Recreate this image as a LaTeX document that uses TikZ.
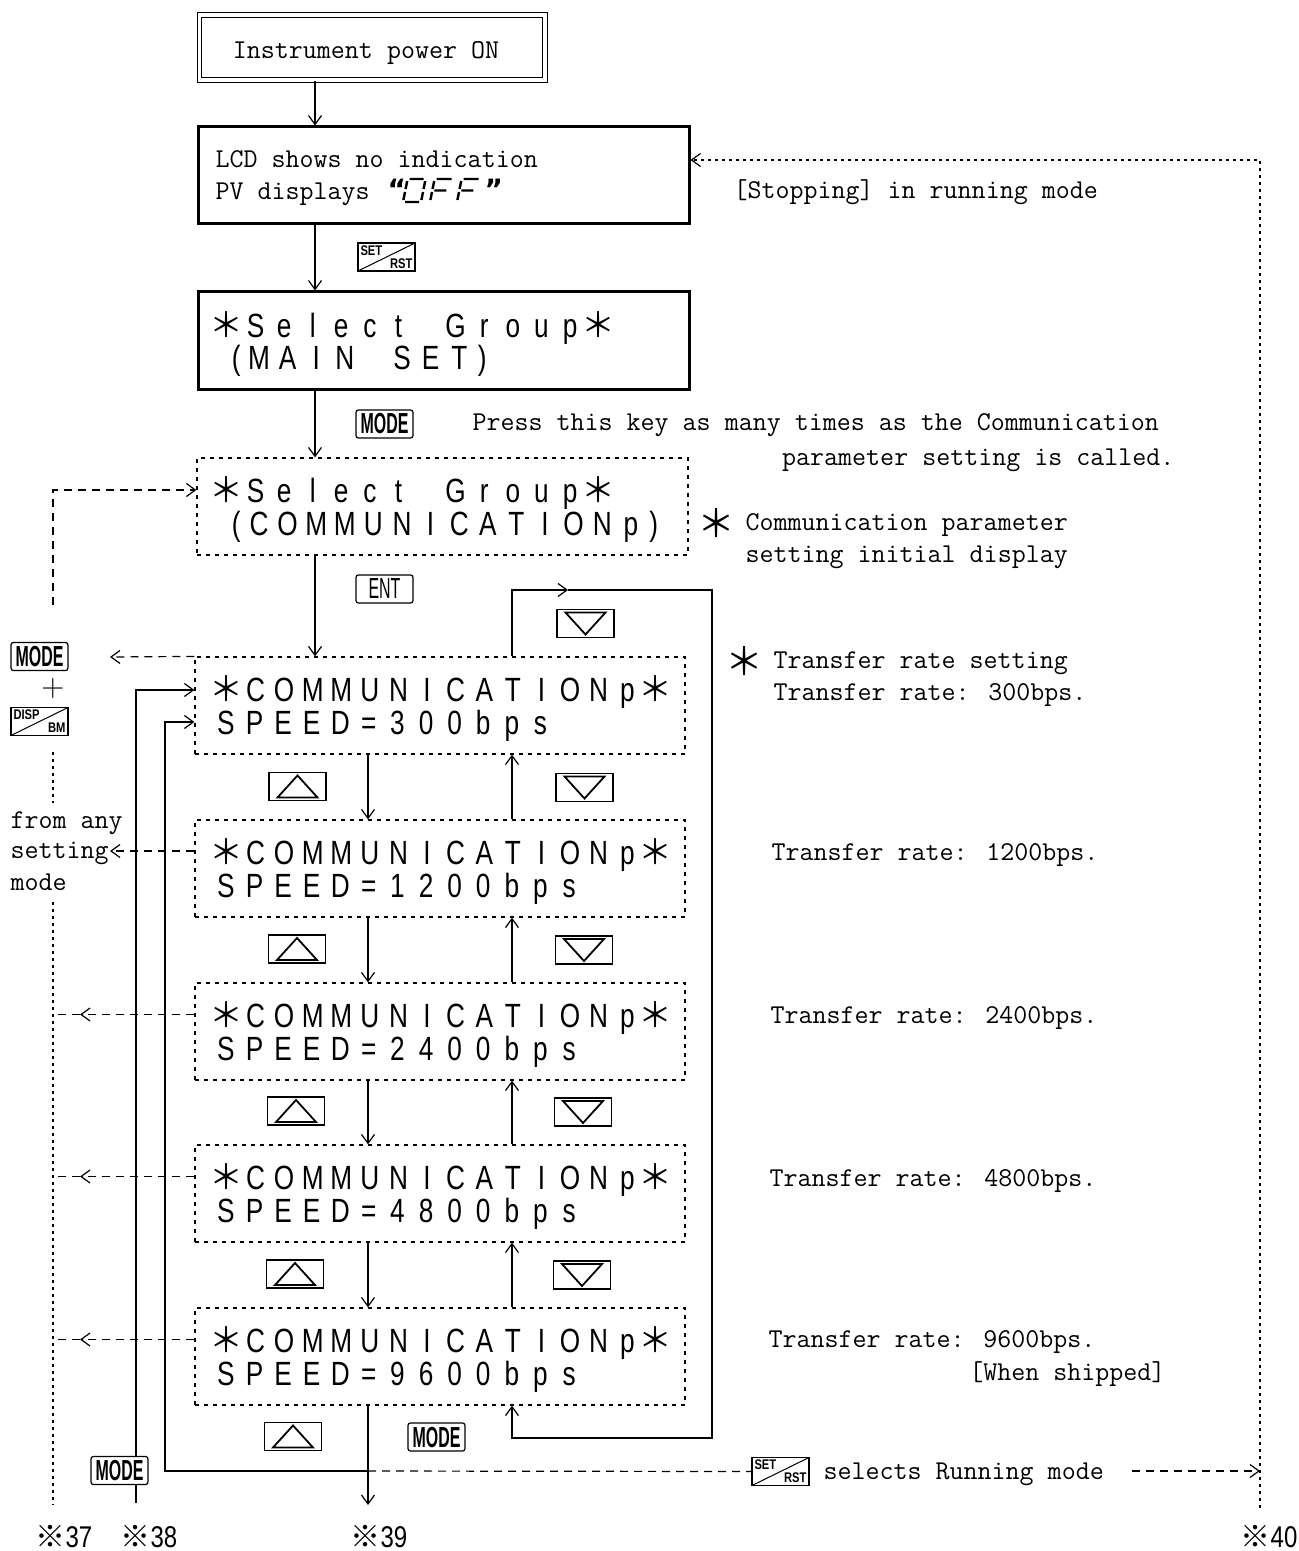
\documentclass[tikz,border=0pt]{standalone}
\usepackage{fontspec}
\usetikzlibrary{arrows.meta}
\newfontfamily\lcdfont[FakeStretch=0.78]{Liberation Sans}
\newfontfamily\keyfont[FakeStretch=0.55]{Liberation Sans}
\newfontfamily\tinyfont[FakeStretch=0.8]{Liberation Sans}
\newfontfamily\numfont[FakeStretch=0.8]{Liberation Sans}
\newfontfamily\djv{DejaVu Sans}
\newfontfamily\cjk{Noto Sans CJK SC}
\newcommand\mtxt{\ttfamily\fontsize{13.6}{16}\selectfont}
\newcommand\lcdsz{\lcdfont\fontsize{16.8}{18}\selectfont}
\newcommand\keysz{\keyfont\bfseries\fontsize{14.5}{15}\selectfont}
\newcommand\keyszr{\keyfont\fontsize{14.5}{15}\selectfont}
\newcommand\tinysz{\tinyfont\bfseries\fontsize{7}{6.6}\selectfont}
\newcommand\lcdast{{\cjk\fontsize{17}{17}\selectfont ＊}}
\newcommand\bigast{{\cjk\fontsize{19}{19}\selectfont ＊}}
\newcommand\refm[1]{{\cjk\fontsize{15}{15}\selectfont ※}{\numfont\fontsize{15}{15}\selectfont #1}}
\makeatletter
\newlength\lcdw
\setlength\lcdw{14.3pt}
\def\lcdstop{\lcdstop}
\def\lcd#1{\lcd@loop#1\lcdstop}
\def\lcd@loop#1{%
  \ifx#1\lcdstop
  \else
    \lcd@char#1%
    \expandafter\lcd@loop
  \fi}
\def\lcd@char#1{%
  \ifx#1_\hspace*{\lcdw}%
  \else\ifx#1*\makebox[\lcdw][c]{\lcdast}%
  \else\ifx#1(\makebox[0.6\lcdw][c]{(}%
  \else\ifx#1)\makebox[0.6\lcdw][c]{)}%
  \else\makebox[\lcdw][c]{#1}%
  \fi\fi\fi\fi}
\makeatother
\begin{document}
\begin{tikzpicture}[x=0.5pt,y=-0.5pt,line width=0.6pt,
  >={Straight Barb[length=4.5pt,width=6.5pt]},
  pwbox/.style={draw, double, double distance=1.6pt, line width=0.6pt, minimum width=172.75pt, minimum height=32.5pt, inner sep=0pt},
  thickbox/.style={draw, line width=1.5pt, minimum width=245.5pt, minimum height=48.5pt, inner sep=0pt},
  dotbox/.style={draw, line width=0.6pt, dash pattern=on 2pt off 2.5pt, minimum width=245pt, minimum height=48.5pt, inner sep=0pt},
  fine/.style={dash pattern=on 1.5pt off 2pt},
  dsh/.style={dash pattern=on 4pt off 3pt},
  lcdl/.style={font=\lcdsz, inner sep=0pt, anchor=base west},
  txt/.style={font=\mtxt, inner sep=0pt, anchor=base west},
  keyb/.style={draw, line width=0.6pt, minimum width=28.5pt, minimum height=14pt, inner sep=0pt},
  modekey/.style={keyb, rounded corners=1.2pt, font=\keysz},
  slashkey/.style={keyb, font=\tinysz, path picture={\draw[line width=0.5pt] (path picture bounding box.south west) -- (path picture bounding box.north east);}},
  upkey/.style={keyb, path picture={\draw[line width=0.9pt] ([xshift=-10pt,yshift=-5.5pt]path picture bounding box.center) -- ([yshift=5.5pt]path picture bounding box.center) -- ([xshift=10pt,yshift=-5.5pt]path picture bounding box.center) -- cycle;}},
  downkey/.style={keyb, path picture={\draw[line width=0.9pt] ([xshift=-10pt,yshift=5.5pt]path picture bounding box.center) -- ([yshift=-5.5pt]path picture bounding box.center) -- ([xshift=10pt,yshift=5.5pt]path picture bounding box.center) -- cycle;}},
  seg/.style={line width=1.2pt, xslant=0.2}
]
\useasboundingbox (0,0) rectangle (1298,1551);

% column coordinates
\coordinate (xa) at (315,0);
\coordinate (xd) at (368,0);
\coordinate (xu) at (512,0);
\coordinate (xl) at (53,0);
\coordinate (xm) at (136,0);
\coordinate (xs) at (165,0);
\coordinate (xr) at (1260,0);

% boxes
\node[pwbox] (pw) at (372.25,47.5) {};
\node[thickbox] (lcd) at (443.5,175.5) {};
\node[thickbox] (ms) at (443.5,340.5) {};
\node[dotbox, minimum width=245.5pt] (sg) at (442.5,506.5) {};
\node[dotbox] (b300) at (440,705.5) {};
\node[dotbox] (b1200) at (440,868.5) {};
\node[dotbox] (b2400) at (440,1031.5) {};
\node[dotbox] (b4800) at (440,1193.5) {};
\node[dotbox] (b9600) at (440,1356.5) {};

% box texts
\node[txt, anchor=base] (tpw) at (366,59) {Instrument power ON};
\node[txt] (tl1) at (215,168) {LCD shows no indication};
\node[txt] (tl2) at (215,200) {PV displays};
\node[inner sep=0pt, anchor=base west] (tq1) at (387,200) {{\djv\bfseries\fontsize{14}{14}\selectfont “}};
\node[inner sep=0pt, anchor=base west] (tq2) at (484,200) {{\djv\bfseries\fontsize{14}{14}\selectfont ”}};
\begin{scope}[shift={(403,202)}]
  \draw[seg] (2,-23)--(16,-23) (18,-21)--(18,-13) (18,-10)--(18,-2) (2,0)--(16,0) (0,-10)--(0,-2) (0,-21)--(0,-13);
\end{scope}
\begin{scope}[shift={(430,202)}]
  \draw[seg] (2,-23)--(17,-23) (0,-10)--(0,-2) (0,-21)--(0,-13) (2,-11.5)--(14,-11.5);
\end{scope}
\begin{scope}[shift={(457,202)}]
  \draw[seg] (2,-23)--(17,-23) (0,-10)--(0,-2) (0,-21)--(0,-13) (2,-11.5)--(14,-11.5);
\end{scope}
\node[lcdl] (tm1) at (212,338) {\lcd{*Select_Group*}};
\node[lcdl] (tm2) at (227,370) {\lcd{(MAIN_SET)}};
\node[lcdl] (ts1) at (212,502) {\lcd{*Select_Group*}};
\node[lcdl] (ts2) at (227,535) {\lcd{(COMMUNICATIONp)}};
\node[lcdl] (c1a) at (212,701) {\lcd{*COMMUNICATIONp*}};
\node[lcdl] (c1b) at (211,734) {\lcd{SPEED=300bps}};
\node[lcdl] (c2a) at (212,864) {\lcd{*COMMUNICATIONp*}};
\node[lcdl] (c2b) at (211,897) {\lcd{SPEED=1200bps}};
\node[lcdl] (c3a) at (212,1027) {\lcd{*COMMUNICATIONp*}};
\node[lcdl] (c3b) at (211,1060) {\lcd{SPEED=2400bps}};
\node[lcdl] (c4a) at (212,1189) {\lcd{*COMMUNICATIONp*}};
\node[lcdl] (c4b) at (211,1222) {\lcd{SPEED=4800bps}};
\node[lcdl] (c5a) at (212,1352) {\lcd{*COMMUNICATIONp*}};
\node[lcdl] (c5b) at (211,1385) {\lcd{SPEED=9600bps}};

% annotations
\node[txt] (stop) at (733,199) {[Stopping] in running mode};
\node[txt] (press) at (472,430) {Press this key as many times as the Communication};
\node[txt, anchor=base east] (press2) at (1175,465) {parameter setting is called.};
\node[inner sep=0pt] (ast1) at (716,523) {\bigast};
\node[txt] (cp1) at (745,530) {Communication parameter};
\node[txt] (cp2) at (745,562) {setting initial display};
\node[inner sep=0pt] (ast2) at (744,661) {\bigast};
\node[txt] (tr0) at (773,668) {Transfer rate setting};
\node[txt] (tr1) at (773,700) {Transfer rate: 300bps.};
\node[txt] (tr2) at (771,860) {Transfer rate: 1200bps.};
\node[txt] (tr3) at (770,1023) {Transfer rate: 2400bps.};
\node[txt] (tr4) at (769,1186) {Transfer rate: 4800bps.};
\node[txt] (tr5) at (768,1347) {Transfer rate: 9600bps.};
\node[txt, anchor=base east] (ship) at (1166,1380) {[When shipped]};
\node[txt] (sel) at (823,1479) {selects Running mode};
\node[txt] (fa1) at (10,828) {from any};
\node[txt] (fa2) at (10,858) {setting};
\node[txt] (fa3) at (10,890) {mode};
\node[inner sep=0pt] (plus) at (53,689) {\fontsize{16}{16}\selectfont +};
\node[inner sep=0pt, anchor=base west] (m37) at (35,1547) {\refm{37}};
\node[inner sep=0pt, anchor=base west] (m38) at (120,1547) {\refm{38}};
\node[inner sep=0pt, anchor=base west] (m39) at (350,1547) {\refm{39}};
\node[inner sep=0pt, anchor=base east] (m40) at (1298,1547) {\refm{40}};

% keys
\node[slashkey] (sk1) at (386.5,257) {\parbox{26pt}{SET\par\hfill RST}};
\node[modekey] (mk2) at (384.5,424) {MODE};
\node[modekey, font=\keyszr] (ent) at (384.5,589) {ENT};
\node[downkey] (dn0) at (585.5,623.5) {};
\node[upkey] (up1) at (297.5,786.5) {};
\node[downkey] (dn1) at (584.5,787.5) {};
\node[upkey] (up2) at (297,949) {};
\node[downkey] (dn2) at (584,950) {};
\node[upkey] (up3) at (296,1111) {};
\node[downkey] (dn3) at (583,1112) {};
\node[upkey] (up4) at (295,1274) {};
\node[downkey] (dn4) at (582,1275) {};
\node[upkey] (up5) at (293,1436.5) {};
\node[modekey] (mk4) at (436.5,1437) {MODE};
\node[modekey] (mk3) at (119.5,1470.5) {MODE};
\node[modekey] (mk1) at (39.5,656.5) {MODE};
\node[slashkey] (dk) at (39.5,721.5) {\parbox{26pt}{DISP\par\hfill BM}};
\node[slashkey] (sk2) at (780.5,1471.5) {\parbox{26pt}{SET\par\hfill RST}};

% main flow
\draw[->] (pw.south -| xa) -- (lcd.north -| xa);
\draw[->] (lcd.south -| xa) -- (ms.north -| xa);
\draw[->] (ms.south -| xa) -- (sg.north -| xa);
\draw[->] (sg.south -| xa) -- (b300.north -| xa);
\draw[->] (b300.south -| xd) -- (b1200.north -| xd);
\draw[->] (b1200.south -| xd) -- (b2400.north -| xd);
\draw[->] (b2400.south -| xd) -- (b4800.north -| xd);
\draw[->] (b4800.south -| xd) -- (b9600.north -| xd);
\draw[->] (b1200.north -| xu) -- (b300.south -| xu);
\draw[->] (b2400.north -| xu) -- (b1200.south -| xu);
\draw[->] (b4800.north -| xu) -- (b2400.south -| xu);
\draw[->] (b9600.north -| xu) -- (b4800.south -| xu);
\coordinate (e39) at (368,1505);
\draw[->] (b9600.south -| xd) -- (e39);

% loop
\coordinate (lt) at (712,590);
\coordinate (lb) at (712,1438);
\coordinate (ltm) at (568,590);
\draw[->] (b300.north -| xu) |- (ltm);
\draw[->] (ltm) -- (lt) -- (lb) -| (b9600.south -| xu);

% left dashed
\coordinate (lv0) at (53,490);
\coordinate (lv1) at (53,605);
\draw[dsh,->] (lv1) -- (lv0) -- (sg.west |- lv0);
\coordinate (t1) at (110,657);
\draw[dsh,->] (b300.north west) -- (t1);
\coordinate (lv2) at (53,752);
\coordinate (lv3) at (53,803);
\draw[fine] (lv2) -- (lv3);
\coordinate (lv4) at (53,902);
\coordinate (lv5) at (53,1505);
\draw[fine] (lv4) -- (lv5);
\coordinate (t2) at (110,851);
\draw[dsh,->] (b1200.west |- t2) -- (t2);
\coordinate (t3) at (80,1014.5);
\draw[dsh,->] (b2400.west |- t3) -- (t3);
\draw[dsh] (t3) -- (xl |- t3);
\coordinate (t4) at (80,1176.5);
\draw[dsh,->] (b4800.west |- t4) -- (t4);
\draw[dsh] (t4) -- (xl |- t4);
\coordinate (t5) at (80,1339.5);
\draw[dsh,->] (b9600.west |- t5) -- (t5);
\draw[dsh] (t5) -- (xl |- t5);

% solid return lines
\coordinate (r1) at (0,690);
\coordinate (r2) at (0,722);
\draw[->] (mk3.north -| xm) |- (b300.west |- r1);
\coordinate (e38) at (136,1503);
\draw (mk3.south -| xm) -- (e38);
\coordinate (bl) at (165,1471);
\coordinate (bm) at (368,1471);
\draw[->] (bm) -- (bl) |- (b300.west |- r2);
\draw[dsh] (bm) -- (sk2.west);
\coordinate (rr1) at (1132,1471);
\draw[dsh,->] (rr1) -- (xr |- rr1);

% right dotted return
\coordinate (e40) at (1260,1508);
\coordinate (rt) at (1260,160);
\draw[fine,->] (e40) -- (rt) -- (lcd.east |- rt);
\end{tikzpicture}
\end{document}
